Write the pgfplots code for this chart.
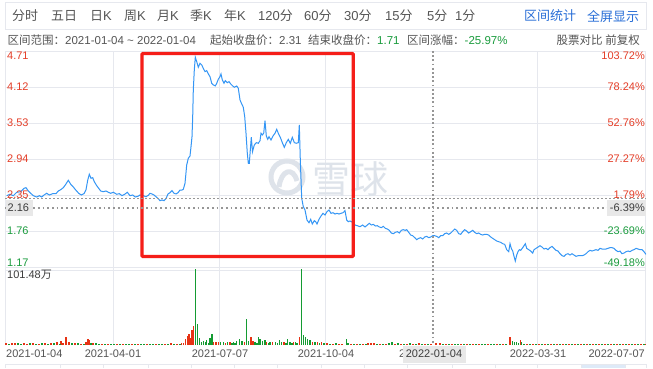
\documentclass[border=0pt]{standalone}
\usepackage{fontspec}
\setmainfont{Liberation Sans}
\newfontfamily\cjk{Noto Sans CJK SC}
\usepackage{pgfplots}
\pgfplotsset{compat=1.18}
\definecolor{upred}{RGB}{228,62,40}
\definecolor{dngreen}{RGB}{27,156,62}
\definecolor{barred}{RGB}{230,50,20}
\definecolor{bargreen}{RGB}{20,155,50}
\definecolor{lineblue}{RGB}{52,150,245}
\definecolor{gridc}{RGB}{230,232,238}
\definecolor{txt}{RGB}{85,85,85}
\definecolor{dark}{RGB}{60,60,60}
\definecolor{linkblue}{RGB}{40,110,215}
\definecolor{boxred}{RGB}{245,30,25}
\definecolor{wm}{RGB}{222,227,234}
\definecolor{boxgray}{RGB}{232,232,232}
\definecolor{dotgray}{RGB}{150,150,150}
\definecolor{scrollblue}{RGB}{222,234,248}
\begin{document}
\begin{tikzpicture}[x=1bp,y=1bp,
  lbl/.style={inner sep=0pt, font=\fontsize{11bp}{13bp}\selectfont},
  tb/.style={inner sep=0pt, anchor=west, text=txt, font=\fontsize{13bp}{15bp}\selectfont},
  inf/.style={inner sep=0pt, anchor=west, text=txt, font=\fontsize{11.5bp}{14bp}\selectfont}]
\path[use as bounding box, fill=white] (0,0) rectangle (653,-368);

% toolbar
\draw[gridc, line width=1bp] (5.5,-2.5) rectangle (646.5,-29.5);
\node[tb] at (12,-16) {\cjk 分时};
\node[tb] at (51,-16) {\cjk 五日};
\node[tb] at (90,-16) {{\cjk 日}K};
\node[tb] at (124,-16) {{\cjk 周}K};
\node[tb] at (157,-16) {{\cjk 月}K};
\node[tb] at (190,-16) {{\cjk 季}K};
\node[tb] at (224,-16) {{\cjk 年}K};
\node[tb] at (258,-16) {120{\cjk 分}};
\node[tb] at (304,-16) {60{\cjk 分}};
\node[tb] at (344,-16) {30{\cjk 分}};
\node[tb] at (385,-16) {15{\cjk 分}};
\node[tb] at (427,-16) {5{\cjk 分}};
\node[tb] at (455,-16) {1{\cjk 分}};
\node[tb, text=linkblue] at (524,-16) {\cjk 区间统计};
\node[tb, text=linkblue] at (587,-16) {\cjk 全屏显示};

% info line
\node[inf] at (7.5,-40) {{\cjk 区间范围：}2021-01-04 \textasciitilde\ 2022-01-04};
\node[inf] at (210,-40) {{\cjk 起始收盘价：}2.31};
\node[inf] at (308,-40) {{\cjk 结束收盘价：}\textcolor{dngreen}{1.71}};
\node[inf] at (407,-40) {{\cjk 区间涨幅：}\textcolor{dngreen}{-25.97\%}};
\node[inf, anchor=east] at (640,-40) {\cjk 股票对比 前复权};

% grid
\begin{scope}[gridc, line width=0.8bp]
\foreach \yy in {51,87,123,159,195,231,267,270} \draw (5,-\yy) -- (646,-\yy);
\foreach \xx in {5.5,113,219,325,537,645.5} \draw (\xx,-51) -- (\xx,-345);
\end{scope}

% watermark
\draw[wm, line width=5bp] (287,-177) circle (16);
\draw[wm, line width=5bp] (279,-187) .. controls (281,-170) and (293,-166) .. (297,-181);
\node[inner sep=0pt, anchor=west, text=wm, font=\cjk\fontsize{38bp}{40bp}\selectfont] at (312,-179) {雪球};

% price line
\begin{axis}[at={(5bp,-267bp)}, anchor=south west, width=641bp, height=216bp,
  scale only axis, xmin=5, xmax=646, ymin=1.17, ymax=4.71, hide axis]
\addplot[lineblue, line width=1bp, mark=none] coordinates {
(6.7,2.339)(10,2.362)(13.3,2.339)(16.7,2.395)(20.7,2.404)(24,2.460)(26,2.470)(28.3,2.416)(30.7,2.378)(33.3,2.339)(36.7,2.317)(39.3,2.339)(41.7,2.317)(44,2.350)(46.7,2.378)(49.3,2.350)(52.7,2.372)(56,2.372)(58.3,2.416)(60.7,2.437)(63.3,2.470)(65.3,2.514)(68.3,2.591)(70.7,2.526)(73.3,2.481)(76,2.427)(78.7,2.378)(81.3,2.350)(84,2.372)(86,2.437)(87.7,2.591)(89.3,2.690)(91,2.624)(92.7,2.634)(94.3,2.568)(96.7,2.503)(98.7,2.460)(100.7,2.416)(103.3,2.404)(106,2.416)(108.3,2.395)(110.7,2.378)(113.3,2.395)(116.7,2.362)(119.3,2.372)(122,2.339)(124.7,2.362)(127.3,2.395)(130,2.339)(132.7,2.350)(135.3,2.317)(138,2.329)(140,2.350)
(143.3,2.339)(146,2.322)(148.3,2.345)(150,2.378)(152,2.367)(154,2.350)(156,2.322)(158.3,2.290)(160,2.257)(162,2.268)(164,2.257)(166,2.290)(168,2.367)(170,2.388)(172,2.421)(174,2.378)(176,2.367)(178,2.388)(180,2.432)(182,2.432)(183.3,2.444)(185,2.542)(186.7,2.842)(188.3,2.952)(190,2.990)(191,3.142)(192,3.306)(192.7,3.634)(193.3,4.072)(194.3,4.399)(195.3,4.608)(196.7,4.536)(198.3,4.444)(200,4.509)(201.7,4.481)(203.3,4.427)(205,4.372)(206.7,4.388)(208.3,4.334)(210,4.290)(211.7,4.181)(213.3,4.154)(215.3,4.137)(216.7,4.181)(218.3,4.247)(220,4.290)(221,4.334)(222.3,4.236)(224,4.181)(225.3,4.224)(227.3,4.191)(229,4.208)(230.7,4.170)(232.7,4.137)(234.3,4.116)(236.7,4.137)(238.3,4.099)(240,3.908)(241.7,3.842)(243.3,3.788)(244.7,3.634)(246,3.362)(247.3,3.034)(248.3,2.870)(249.3,2.870)
(250.3,3.088)(251.3,3.296)(252.5,3.060)(254.3,3.170)(256.3,3.208)(258.3,3.198)(260,3.240)(261,3.362)(262.3,3.334)(263.7,3.362)(265,3.568)(266.3,3.317)(267.7,3.263)(269,3.306)(271,3.252)(273,3.317)(275,3.362)(276.7,3.427)(278.3,3.362)(280.3,3.296)(282.3,3.208)(284.3,3.132)(286.3,3.208)(288.3,3.263)(290.3,3.198)(292.3,3.296)(294.3,3.208)(296.3,3.198)(298.3,3.208)(299.3,3.498)(300.3,2.924)(301.7,2.296)(303.3,2.158)(305,2.104)(307,1.940)(309,1.896)(310.7,1.952)(312.3,1.875)(314.3,1.929)(315.7,1.913)(317,1.875)(319,1.952)(321,2.006)(323,2.050)(325,2.022)(327,2.077)(329,2.104)(331,2.050)(333,2.060)(335,2.039)(337,2.050)(339,2.039)(341,2.050)(343,2.060)(345,2.093)(346.7,1.940)(348.3,1.913)(350,1.924)(352.7,1.902)(355,1.858)
(357.3,1.847)(360,1.831)(362.7,1.858)(365,1.826)(367.3,1.858)(369.3,1.886)(371.3,1.858)(373.3,1.869)(375.3,1.842)(377.3,1.847)(379.3,1.826)(381.3,1.815)(383.3,1.837)(385.3,1.804)(387.3,1.793)(389.3,1.771)(391.3,1.727)(393.3,1.716)(395.3,1.738)(397.3,1.749)(399.3,1.727)(401.3,1.771)(403.3,1.782)(405.3,1.771)(406.7,1.782)(408.7,1.738)(410.7,1.694)(412.7,1.683)(414.7,1.651)(416.7,1.618)(418.7,1.640)(420.7,1.651)(422.7,1.629)(424.7,1.662)(426.7,1.672)(428.7,1.651)(430.7,1.662)(432.7,1.683)(434.7,1.683)(436.7,1.672)(438.7,1.651)(440.7,1.683)(442.7,1.683)(444.7,1.716)(446.7,1.727)(448.7,1.705)(450.7,1.727)(452.7,1.760)(454.7,1.793)(456.7,1.771)(458.7,1.716)(460.7,1.705)(462.7,1.749)(464.7,1.782)(466.7,1.760)(468.7,1.727)(470.7,1.749)(472.7,1.771)(474.7,1.738)(476.7,1.716)(478.7,1.727)(480.7,1.705)(482.7,1.694)(484.7,1.705)(486.7,1.705)(488.7,1.694)(490.7,1.662)(492.7,1.640)(494.7,1.618)(496.7,1.596)(498.7,1.585)(500.7,1.574)(502.7,1.552)(504.7,1.541)(506.7,1.454)(508.7,1.421)(510,1.552)(511.3,1.476)(512.7,1.432)(514,1.345)(515.3,1.268)(516.7,1.366)(518,1.421)(519.3,1.454)(520.7,1.443)(522.7,1.487)(524,1.519)(525.3,1.552)(526.7,1.476)(528.7,1.454)(530.7,1.432)(532.7,1.399)(534,1.454)(536,1.476)(538,1.497)(540,1.519)(542,1.497)(544,1.465)(546,1.476)(548,1.454)(550,1.487)(552,1.508)(554,1.476)(556,1.443)(558,1.432)(560,1.388)(562,1.355)(564,1.345)(566,1.377)(568,1.388)(570,1.366)(572,1.388)(574,1.366)(576,1.345)(578,1.355)(580,1.355)(582,1.355)(584,1.366)(586,1.388)(588,1.421)(590,1.443)(592,1.432)(594,1.443)(596,1.454)(598,1.443)(600,1.476)(602,1.465)(604,1.465)(606,1.465)(608,1.476)(610,1.487)(612,1.487)(614,1.476)(616,1.443)(618,1.421)(620,1.432)(622,1.388)(624,1.399)(626,1.421)(628,1.432)(630,1.421)(632,1.443)(634,1.454)(636,1.476)(638,1.465)(640,1.454)(642,1.454)(644,1.421)(646,1.377)
};
\end{axis}

% volume bars
\begin{axis}[at={(5bp,-345bp)}, anchor=south west, width=641bp, height=76bp,
  scale only axis, xmin=5, xmax=646, ymin=0, ymax=101.48, hide axis]
\addplot[ycomb, barred, line width=1.2bp, mark=none] coordinates {
(6,2.7)(12,2.2)(15,3.1)(24,2.7)(27,1.8)(33,2.2)(39,1.8)(45,2.2)(51,2.7)(57,3.6)(61,5.3)(63,3.1)(66,10.7)(69,4.5)(75,2.2)(81,1.8)(86,4.5)(88,8.0)(89.5,6.7)(93,3.1)(102,1.8)(108,1.3)(117,1.8)(123,1.3)(132,1.8)(138,1.3)(147,1.8)(156,1.3)(165,1.8)(171,2.2)(177,1.8)
(181.5,2.7)(183.5,3.1)(185.7,8.0)(187.3,11.6)(189,14.2)(190.7,8.9)(192,19.6)(193.3,25.4)(213.7,4.5)(216,4.5)(218.3,3.6)(225.3,2.7)(230,3.6)(244.3,4.5)(251,11.1)(253,5.3)(266.7,4.5)(272.7,4.5)(284,3.6)(293.3,3.6)(299.3,10.7)(312.7,4.5)(317.3,3.6)(321.7,4.5)
(327,2.2)(333,1.8)(339,1.3)(342,1.8)(351,1.3)(357,1.8)(363,1.3)(368,2.7)(371,2.2)(374,2.7)(380,1.8)(386,1.3)(395,1.8)(401,1.3)(407,1.8)(413,1.3)(419,2.2)(425,1.8)(431,1.8)(436,2.2)(440,2.7)(446,1.3)(452,1.3)(461,1.3)(467,1.3)(473,1.3)(479,1.8)(488,1.3)(497,1.3)(503,1.8)(510,10.7)(520.3,6.7)(527,1.0)(533,1.0)(539,1.8)(545,1.0)(551,1.0)(557,1.0)(563,1.0)(569,1.0)(575,1.0)(581,1.0)(587,1.0)(593,1.0)(599,1.0)(605,1.0)(611,1.0)(617,1.0)(623,1.8)(629,1.0)(635,1.0)(641,1.0)(645,1.0)
};
\addplot[ycomb, bargreen, line width=1.2bp, mark=none] coordinates {
(9,1.8)(18,2.2)(21,1.8)(30,2.2)(36,1.8)(42,2.2)(48,1.8)(54,2.2)(60,1.8)(72,2.2)(78,2.7)(84,1.8)(91,2.7)(96,2.2)(99,1.8)(105,1.3)(111,1.8)(114,1.3)(120,1.8)(126,1.3)(129,1.3)(135,1.8)(141,1.3)(144,1.3)(150,1.3)(153,1.8)(159,1.3)(162,1.3)(168,1.8)(174,1.3)(180,1.8)
(195.3,101.48)(197.3,27.6)(199.3,9.8)(201.3,4.5)(203.3,5.3)(205.3,3.6)(206.7,6.2)(208.5,3.1)(210,9.8)(212,14.2)(220.7,4.5)(223.3,3.6)(227.3,4.5)(232,2.7)(233.3,4.5)(235,3.1)(236.7,5.3)(239.3,8.0)(242,5.3)(246.3,34.7)(248.3,5.3)(255,3.6)(257,2.7)(258.3,10.7)(260,8.0)(262.7,5.3)(265,6.2)(268.5,2.7)(270,3.6)(275.3,3.6)(277.5,2.7)(279.3,6.7)(281.7,4.5)(286,2.7)(287.3,8.0)(290,4.5)(292,2.7)(295.3,3.6)(297,2.7)(301.7,101.48)(303.3,13.4)(305.3,10.7)(307.3,8.0)(310,6.2)(315,3.6)(319.3,2.7)(324,2.7)
(330,1.8)(336,2.2)(346.7,8.0)(348,2.7)(354,1.8)(360,1.8)(366,1.3)(377,1.3)(383,1.8)(389,3.1)(392,3.6)(398,2.2)(404,1.8)(410,2.2)(416,1.8)(422,1.8)(428,1.3)(443,1.3)(449,1.8)(455,1.3)(458,1.3)(464,1.3)(470,1.3)(476,1.3)(482,1.3)(485,1.8)(491,1.3)(494,1.3)(500,1.3)(506,1.8)(512.3,5.3)(514.3,3.6)(516.7,4.5)(518.5,2.7)(521.7,4.5)(524,1.8)(530,1.0)(536,1.0)(542,1.0)(548,1.8)(554,1.0)(560,1.0)(566,1.0)(572,1.0)(578,1.0)(584,1.0)(590,1.0)(596,1.8)(602,1.0)(608,1.0)(614,1.0)(620,1.0)(626,1.0)(632,1.0)(638,1.0)(644,1.0)
};
\end{axis}

% red highlight box
\draw[boxred, line width=3.3bp, rounded corners=1bp] (142,-53.5) rectangle (353.3,-256.5);

% reference dotted lines
\draw[dotgray, line width=0.9bp, dash pattern=on 2bp off 2bp] (5,-198) -- (646,-198);
\draw[dotgray, line width=1.7bp, dash pattern=on 1.7bp off 3bp] (5,-207.7) -- (646,-207.7);
% cursor
\draw[dotgray, line width=1.7bp, dash pattern=on 1.7bp off 2.5bp] (433,-51) -- (433,-345);

% left price labels
\node[lbl, anchor=west, text=upred] at (7,-56) {4.71};
\node[lbl, anchor=west, text=upred] at (7,-87) {4.12};
\node[lbl, anchor=west, text=upred] at (7,-123) {3.53};
\node[lbl, anchor=west, text=upred] at (7,-159) {2.94};
\node[lbl, anchor=west, text=upred] at (7,-194.5) {2.35};
\node[lbl, anchor=west, text=dngreen] at (7,-231) {1.76};
\node[lbl, anchor=west, text=dngreen] at (7,-263) {1.17};
% right percent labels
\node[lbl, anchor=east, text=upred] at (645,-56) {103.72\%};
\node[lbl, anchor=east, text=upred] at (645,-87) {78.24\%};
\node[lbl, anchor=east, text=upred] at (645,-123) {52.76\%};
\node[lbl, anchor=east, text=upred] at (645,-159) {27.27\%};
\node[lbl, anchor=east, text=upred] at (645,-194.5) {1.79\%};
\node[lbl, anchor=east, text=dngreen] at (645,-231) {-23.69\%};
\node[lbl, anchor=east, text=dngreen] at (645,-263) {-49.18\%};
% current price boxes
\fill[boxgray] (6,-200) rectangle (32.5,-216);
\node[lbl, anchor=west, text=dark] at (7.5,-208) {2.16};
\fill[boxgray] (607,-200) rectangle (646,-216);
\node[lbl, anchor=east, text=dark] at (645,-208) {-6.39\%};

% volume label
\node[lbl, anchor=west, text=dark] at (7,-275) {101.48{\cjk 万}};

% date labels
\node[lbl, anchor=west, text=txt] at (6,-354) {2021-01-04};
\node[lbl, text=txt] at (113,-354) {2021-04-01};
\node[lbl, text=txt] at (220,-354) {2021-07-07};
\node[lbl, text=txt] at (326,-354) {2021-10-04};
\node[lbl, anchor=west, text=txt] at (399,-354) {2};
\fill[boxgray] (402.5,-345.5) rectangle (466,-362.5);
\node[lbl, text=dark] at (434,-354) {2022-01-04};
\node[lbl, text=txt] at (538,-354) {2022-03-31};
\node[lbl, anchor=east, text=txt] at (645,-354) {2022-07-07};

% scrollbar strip
\fill[scrollblue] (581,-364) rectangle (625,-368);
\draw[gridc, line width=0.8bp] (5.5,-364) -- (646,-364);
\foreach \xx in {5.5,60,103,148,191,234,277,321,364,407,452,495,537,581,625,646}
  \draw[gridc, line width=0.8bp] (\xx,-364) -- (\xx,-368);
\end{tikzpicture}
\end{document}
